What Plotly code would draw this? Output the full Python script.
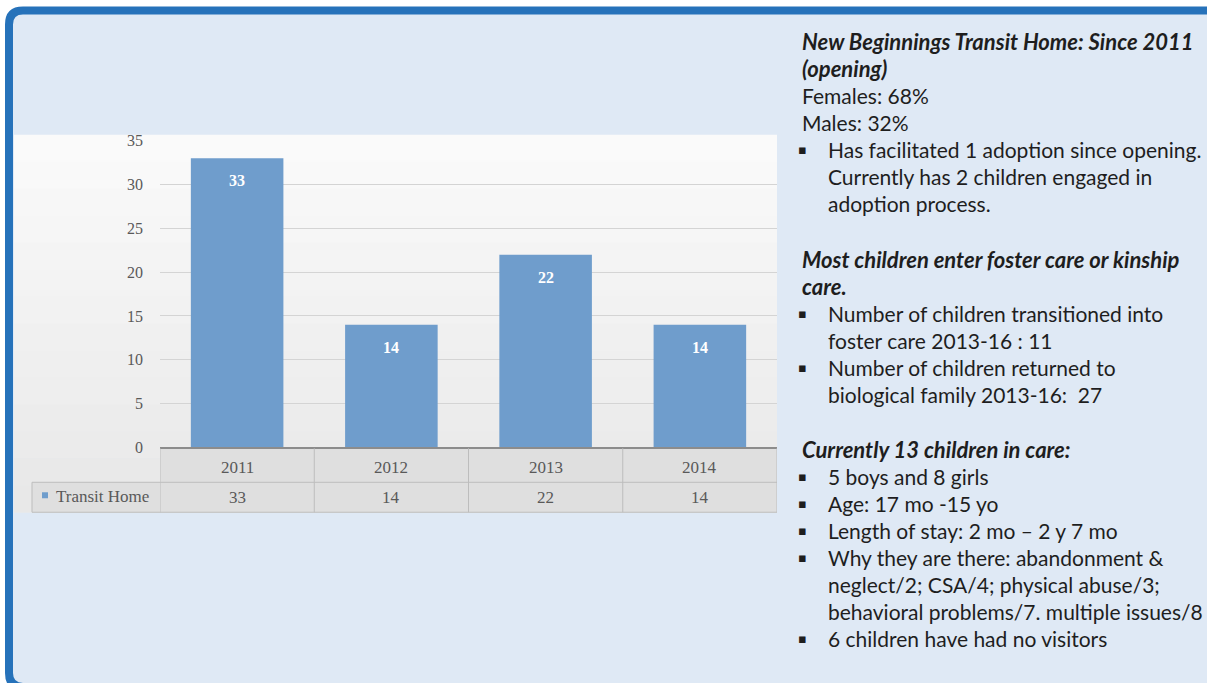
import plotly.graph_objects as go

# ---------------- data ----------------
years = ["2011", "2012", "2013", "2014"]
values = [33, 14, 22, 14]
series_name = "Transit Home"
y_ticks = [0, 5, 10, 15, 20, 25, 30, 35]

heading1 = ["New Beginnings Transit Home: Since 2011", "(opening)"]
plain1 = ["Females: 68%", "Males: 32%"]
bullets1 = [["Has facilitated 1 adoption since opening.",
             "Currently has 2 children engaged in",
             "adoption process."]]
heading2 = ["Most children enter foster care or kinship", "care."]
bullets2 = [["Number of children transitioned into", "foster care 2013-16 : 11"],
            ["Number of children returned to", "biological family 2013-16:  27"]]
heading3 = ["Currently 13 children in care:"]
bullets3 = [["5 boys and 8 girls"],
            ["Age: 17 mo -15 yo"],
            ["Length of stay: 2 mo \u2013 2 y 7 mo"],
            ["Why they are there: abandonment &",
             "neglect/2; CSA/4; physical abuse/3;",
             "behavioral problems/7. multiple issues/8"],
            ["6 children have had no visitors"]]

# ---------------- layout helpers ----------------
W, H = 1207, 683
TOP_OFF, EFF_H = 8, 667
def px(x): return x / W
def py(y): return 1 - (y - TOP_OFF) / EFF_H

SERIF = "Liberation Serif"
SANS = "Lato"
GREY_TXT = "#595959"
BAR = "#6F9DCC"

PL, PR, PT, PB = 160, 777, 141, 448

fig = go.Figure()
fig.add_trace(go.Bar(x=years, y=values, name=series_name, marker_color=BAR,
                     marker_line_width=0, width=0.6, showlegend=False))

shapes = []
x0, y0, x1, y1, r = 9, 10.5, 1260, 688, 14
path = (f"M {px(x0)},{py(y0 + r)} Q {px(x0)},{py(y0)} {px(x0 + r)},{py(y0)} "
        f"L {px(x1 - r)},{py(y0)} Q {px(x1)},{py(y0)} {px(x1)},{py(y0 + r)} "
        f"L {px(x1)},{py(y1 - r)} Q {px(x1)},{py(y1)} {px(x1 - r)},{py(y1)} "
        f"L {px(x0 + r)},{py(y1)} Q {px(x0)},{py(y1)} {px(x0)},{py(y1 - r)} Z")
shapes.append(dict(type="path", xref="paper", yref="paper", path=path,
                   fillcolor="#DFE9F5", line=dict(color="#2672BA", width=8),
                   layer="below"))

top, bot = 135, 513
n = 14
c_top, c_bot = (250, 250, 250), (232, 232, 232)
for i in range(n):
    t = i / (n - 1)
    c = tuple(int(round(a + (b - a) * t)) for a, b in zip(c_top, c_bot))
    ya = top + (bot - top) * i / n
    yb = top + (bot - top) * (i + 1) / n
    shapes.append(dict(type="rect", xref="paper", yref="paper",
                       x0=px(14), x1=px(777), y0=py(ya), y1=py(yb + 0.5),
                       fillcolor=f"rgb{c}", line=dict(width=0), layer="below"))

shapes.append(dict(type="rect", xref="paper", yref="paper",
                   x0=px(PL), x1=px(777), y0=py(448), y1=py(513),
                   fillcolor="#DFDFDF", line=dict(width=0), layer="below"))
shapes.append(dict(type="rect", xref="paper", yref="paper",
                   x0=px(32), x1=px(PL), y0=py(483), y1=py(513),
                   fillcolor="#DFDFDF", line=dict(width=0), layer="below"))
LC = "#BDBDBD"
for yv in [483, 513]:
    shapes.append(dict(type="line", xref="paper", yref="paper",
                       x0=px(32), x1=px(777), y0=py(yv), y1=py(yv),
                       line=dict(color=LC, width=1)))
shapes.append(dict(type="line", xref="paper", yref="paper",
                   x0=px(32), x1=px(32), y0=py(483), y1=py(513),
                   line=dict(color=LC, width=1)))
for k in range(len(years) + 1):
    shapes.append(dict(type="line", xref="x", yref="paper",
                       x0=k - 0.5, x1=k - 0.5, y0=py(449), y1=py(513),
                       line=dict(color=LC, width=1)))
shapes.append(dict(type="rect", xref="paper", yref="paper",
                   x0=px(42), x1=px(48), y0=py(493), y1=py(499),
                   fillcolor=BAR, line=dict(width=0)))

annotations = []
for i, (yr, v) in enumerate(zip(years, values)):
    annotations.append(dict(x=i, y=v, xref="x", yref="y", text=str(v),
                            showarrow=False, yanchor="top", yshift=-12,
                            font=dict(family=SERIF, size=16, color="white",
                                      weight="bold")))
    annotations.append(dict(x=i, y=py(468), xref="x", yref="paper", text=yr,
                            showarrow=False, yanchor="middle",
                            font=dict(family=SERIF, size=17, color=GREY_TXT)))
    annotations.append(dict(x=i, y=py(498), xref="x", yref="paper", text=str(v),
                            showarrow=False, yanchor="middle",
                            font=dict(family=SERIF, size=17, color=GREY_TXT)))
annotations.append(dict(x=px(151), y=py(497), xref="paper", yref="paper",
                        text=series_name, showarrow=False, xanchor="right",
                        yanchor="middle",
                        font=dict(family=SERIF, size=17, color=GREY_TXT)))

TXT = "#1E1E1E"
FS, FSH = 21, 22
def line(text, y, x=800, bold=False, italic=False):
    t = f"<i>{text}</i>" if italic else text
    annotations.append(dict(x=px(x), y=py(y), xref="paper", yref="paper",
                            text=t, showarrow=False, xanchor="left",
                            yanchor="middle", align="left",
                            font=dict(family=SANS, size=FSH if bold else FS,
                                      color=TXT,
                                      weight="bold" if bold else "normal")))
def bullet(y):
    annotations.append(dict(x=px(796), y=py(y), xref="paper", yref="paper",
                            text="\u25AA", showarrow=False, xanchor="left",
                            yanchor="middle",
                            font=dict(family="DejaVu Sans", size=13, color=TXT)))

step = 27.0
y = 42
for t in heading1:
    line(t, y, bold=True, italic=True); y += step
for t in plain1:
    line(t, y); y += step
for b in bullets1:
    bullet(y)
    for t in b:
        line(t, y, x=826); y += step
y = 260
for t in heading2:
    line(t, y, bold=True, italic=True); y += step
for b in bullets2:
    bullet(y)
    for t in b:
        line(t, y, x=826); y += step
y = 450
for t in heading3:
    line(t, y, bold=True, italic=True); y += step
for b in bullets3:
    bullet(y)
    for t in b:
        line(t, y, x=826); y += step

fig.update_layout(
    width=W, height=H, margin=dict(l=0, r=0, t=0, b=0),
    paper_bgcolor="white", plot_bgcolor="rgba(0,0,0,0)",
    shapes=shapes, annotations=annotations,
    xaxis=dict(type="category", domain=[px(PL), px(PR)],
               range=[-0.5, len(years) - 0.5],
               showticklabels=False, showgrid=False, zeroline=False,
               showline=True, linecolor="#8C8C8C", linewidth=2,
               fixedrange=True),
    yaxis=dict(domain=[py(PB), py(PT)], range=[0, 35], tickvals=y_ticks,
               showgrid=True, gridcolor="#D4D4D4", gridwidth=1,
               zeroline=False, showline=False, ticklabelstandoff=16,
               tickfont=dict(family=SERIF, size=16, color=GREY_TXT),
               fixedrange=True),
)

fig.write_html("out.html")
